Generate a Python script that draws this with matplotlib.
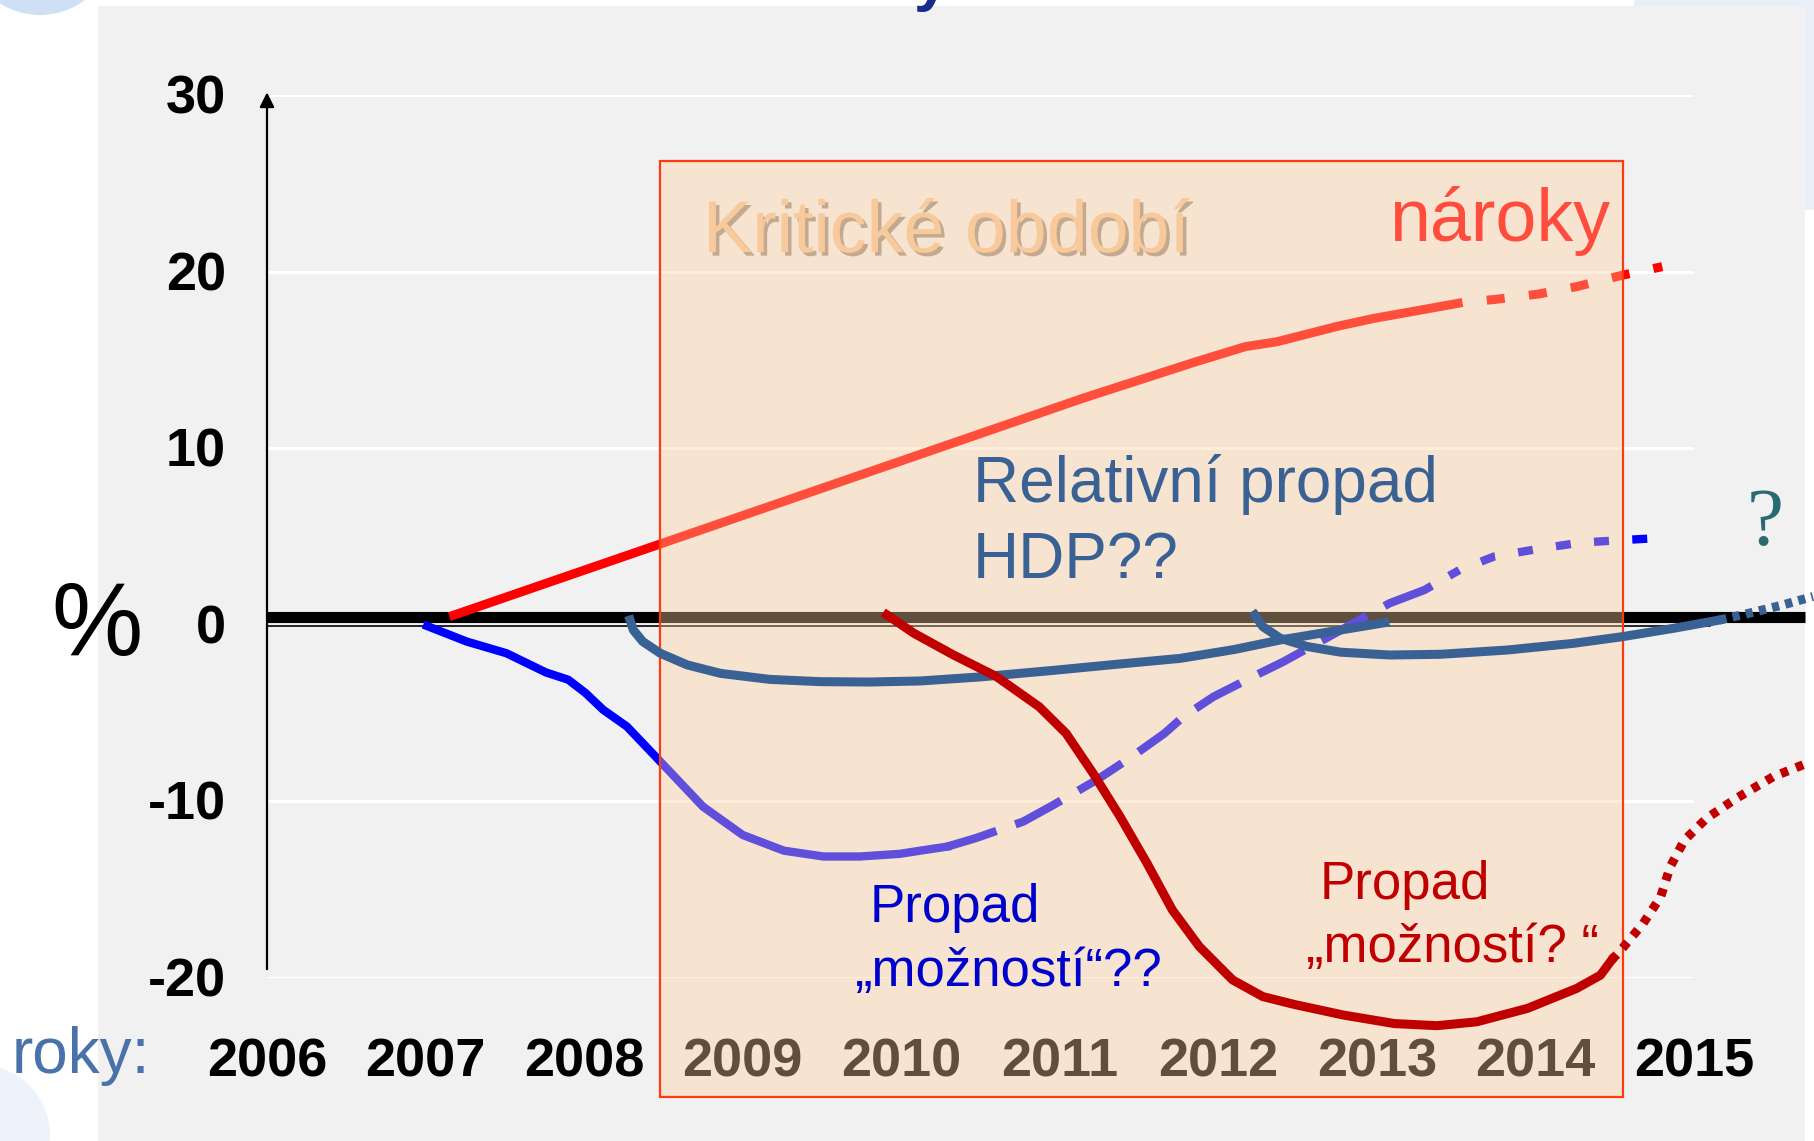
import matplotlib
matplotlib.use("Agg")
import matplotlib.pyplot as plt
import matplotlib.patheffects as pe
from matplotlib.patches import Rectangle, Ellipse

plt.rcParams['font.family'] = ['Liberation Sans', 'DejaVu Sans']

# --- data -----------------------------------------------------------------
years = [2006, 2007, 2008, 2009, 2010, 2011, 2012, 2013, 2014, 2015]
y_ticks = [30, 20, 10, 0, -10, -20]
y_tick_labels = ['30', '20', '10', '0', '-10', '-20']
critical_years = (2008.48, 2014.55)

# claims ("naroky"), solid part and the dashed outlook
naroky_x = [2007.15, 2011.15, 2011.86, 2012.17, 2012.37, 2012.75, 2012.98, 2013.2, 2013.54]
naroky_y = [0.46, 12.84, 14.9, 15.75, 16.03, 16.9, 17.35, 17.7, 18.25]
naroky_out_x = [2013.54, 2013.75, 2014.02, 2014.26, 2014.55, 2014.8]
naroky_out_y = [18.25, 18.43, 18.73, 19.15, 19.8, 20.28]

# drop of "possibilities" (blue)
moz_x = [2007.01, 2007.26, 2007.51, 2007.76, 2007.9, 2008.01, 2008.12, 2008.27, 2008.48,
         2008.75, 2009.0, 2009.26, 2009.51, 2009.74, 2009.99, 2010.12, 2010.29]
moz_y = [-0.07, -0.95, -1.61, -2.7, -3.11, -3.87, -4.81, -5.76, -7.74,
         -10.3, -11.9, -12.79, -13.12, -13.12, -12.97, -12.79, -12.56]
moz_dash_x = [2010.29, 2010.47, 2010.77, 2010.96, 2011.23, 2011.44, 2011.66, 2011.78,
              2011.97, 2012.24, 2012.41, 2012.66, 2013.08, 2013.3, 2013.52]
moz_dash_y = [-12.56, -12.08, -11.14, -10.2, -8.8, -7.56, -6.15, -5.2,
              -4.07, -2.84, -2.09, -0.86, 1.22, 1.97, 3.1]
moz_dot_x = [2013.52, 2013.74, 2014.02, 2014.28, 2014.55, 2014.82]
moz_dot_y = [3.1, 3.87, 4.3, 4.65, 4.8, 4.93]

# relative GDP drop, two arcs
hdp1_x = [2008.29, 2008.31, 2008.37, 2008.48, 2008.65, 2008.86, 2009.17, 2009.49, 2009.8,
          2010.12, 2010.5, 2010.96, 2011.4, 2011.76, 2012.1, 2012.39, 2012.72, 2013.05]
hdp1_y = [0.27, -0.29, -0.95, -1.61, -2.27, -2.75, -3.09, -3.22, -3.24,
          -3.18, -2.95, -2.58, -2.2, -1.9, -1.4, -0.86, -0.37, 0.12]
hdp2_x = [2012.23, 2012.28, 2012.39, 2012.56, 2012.77, 2013.08, 2013.4, 2013.82, 2014.24,
          2014.55, 2014.87, 2015.16]
hdp2_y = [0.56, -0.1, -0.76, -1.23, -1.55, -1.71, -1.67, -1.43, -1.05,
          -0.67, -0.2, 0.27]
hdp2_dot_x = [2015.16, 2015.35, 2015.55, 2015.75]
hdp2_dot_y = [0.27, 0.66, 1.1, 1.6]

# drop of "possibilities" (dark red)
pr_x = [2009.91, 2010.08, 2010.33, 2010.6, 2010.87, 2011.04, 2011.21, 2011.38, 2011.55,
        2011.71, 2011.88, 2012.09, 2012.28, 2012.48, 2012.79, 2013.11, 2013.38, 2013.63,
        2013.95, 2014.26, 2014.41, 2014.48]
pr_y = [0.56, -0.48, -1.71, -2.93, -4.64, -6.15, -8.41, -10.86, -13.5,
        -16.15, -18.22, -20.11, -21.05, -21.5, -22.1, -22.58, -22.7, -22.48,
        -21.72, -20.59, -19.84, -18.99]
pr_dot_x = [2014.48, 2014.55, 2014.68, 2014.79, 2014.85, 2014.94, 2015.08, 2015.27,
            2015.5, 2015.71]
pr_dot_y = [-18.99, -18.3, -16.9, -15.4, -13.7, -12.19, -10.95, -9.81,
            -8.6, -7.85]

# --- figure ---------------------------------------------------------------
W, H = 1814, 1141
fig = plt.figure(figsize=(W / 100, H / 100), dpi=100)
fig.patch.set_facecolor('white')


def blob(cx, cy, r, color, z=-3):
    # circle given in pixels from the top-left corner
    return Ellipse((cx / W, 1 - cy / H), 2 * r / W, 2 * r / H, transform=fig.transFigure,
                   facecolor=color, edgecolor='none', zorder=z)


# slide background
fig.patches.append(blob(40, -60, 75, '#cfe0f4'))
fig.patches.append(blob(-20, 1135, 70, '#eef3fb'))
fig.patches.append(blob(1800, 40, 170, '#e8eff9'))
fig.patches.append(Rectangle((98 / W, 0), (1805 - 98) / W, 1 - 6 / H,
                             transform=fig.transFigure, facecolor='#f1f1f1',
                             edgecolor='none', zorder=-2))
fig.text(931 / W, 1 + 1 / H, 'y', ha='center', va='baseline', fontsize=46,
         fontweight='bold', color='#1a2b8c')

ax = fig.add_axes([267 / W, 163 / H, 1427 / W, 883 / H])
ax.set_xlim(2006, 2015)
ax.set_ylim(-20, 30)
ax.axis('off')

# white gridlines
for v in y_ticks:
    if v != 0:
        ax.plot([2006, 2015], [v, v], color='white', lw=2.2, zorder=1)

# zero line
ax.plot([2006, 2015.7], [0.42, 0.42], color='black', lw=8, solid_capstyle='butt',
        zorder=1.5, clip_on=False)
ax.plot([2006, 2015.1], [-0.05, -0.05], color='black', lw=1.2, zorder=1.5, clip_on=False)

# y axis with arrow
ax.annotate('', xy=(2006, 30.15), xytext=(2006, -19.5),
            arrowprops=dict(arrowstyle='-|>', lw=1.6, color='black', mutation_scale=22,
                            shrinkA=0, shrinkB=0), annotation_clip=False)

# tick labels
for v, lab in zip(y_ticks, y_tick_labels):
    ax.text(2005.74, v - 1.05, lab, ha='right', va='baseline', fontsize=39,
            fontweight='bold', color='black', zorder=2, clip_on=False)
for yr in years:
    ax.text(yr, -25.55, str(yr), ha='center', va='baseline', fontsize=39,
            fontweight='bold', color='black', zorder=2, clip_on=False)
ax.text(2004.39, -25.4, 'roky:', ha='left', va='baseline', fontsize=46,
        color='#4a72aa', zorder=2, clip_on=False)
ax.text(2004.93, -1.7, '%', ha='center', va='baseline', fontsize=74,
        color='black', zorder=2, clip_on=False)

# lines beneath the critical-period overlay
kw = dict(solid_joinstyle='round', dash_capstyle='butt', clip_on=False)
ax.plot(naroky_x, naroky_y, color='#ff0000', lw=6.5, solid_capstyle='butt', zorder=2, **kw)
ax.plot(naroky_out_x, naroky_out_y, color='#ff0000', lw=6.5, ls=(2.0, (2.0, 2.7)),
        zorder=2, **kw)
ax.plot(moz_x, moz_y, color='#0000ff', lw=6, zorder=2, **kw)
ax.plot(moz_dash_x, moz_dash_y, color='#0000ff', lw=6, ls=(0, (6.2, 2.4)),
        zorder=2, **kw)
ax.plot(moz_dot_x, moz_dot_y, color='#0000ff', lw=6, ls=(1.8, (1.8, 2.8)),
        zorder=2, **kw)

# critical period box
x0, x1 = critical_years
ax.add_patch(Rectangle((x0, -26.74), x1 - x0, 53.0, facecolor='#ffd19f', alpha=0.38,
                       edgecolor='none', zorder=3, clip_on=False))
ax.add_patch(Rectangle((x0, -26.74), x1 - x0, 53.0, fill=False, edgecolor='#ff3a10',
                       lw=1.6, zorder=3.1, clip_on=False))

# lines above the overlay
ax.plot(hdp1_x, hdp1_y, color='#3a6194', lw=6.5, zorder=4, **kw)
ax.plot(hdp2_x, hdp2_y, color='#3a6194', lw=6.5, zorder=4, **kw)
ax.plot(hdp2_dot_x, hdp2_dot_y, color='#3a6194', lw=6.5, ls=(0, (0.8, 0.7)),
        zorder=4, **kw)
ax.plot(pr_x, pr_y, color='#c00000', lw=6.5, zorder=4, **kw)
ax.plot(pr_dot_x, pr_dot_y, color='#c00000', lw=6.5, ls=(0, (0.85, 0.95)),
        zorder=4, **kw)

# annotations
ax.text(2008.75, 21.1, 'Kritické období', ha='left', va='baseline', fontsize=53,
        color='#f7c99b', zorder=5,
        path_effects=[pe.SimplePatchShadow(offset=(2.5, -2.5), shadow_rgbFace='#9a7a5a',
                                           alpha=0.55), pe.Normal()])
ax.text(2014.47, 21.75, 'nároky', ha='right', va='baseline', fontsize=53,
        color='#ff4d3d', zorder=5)
ax.text(2010.45, 6.97, 'Relativní propad', ha='left', va='baseline', fontsize=46,
        color='#3a6194', zorder=5)
ax.text(2010.45, 2.63, 'HDP??', ha='left', va='baseline', fontsize=46,
        color='#3a6194', zorder=5)
ax.text(2015.45, 4.52, '?', ha='center', va='baseline', fontsize=60,
        family=['Liberation Serif', 'DejaVu Serif'], color='#2a6b73', zorder=5,
        clip_on=False)
ax.text(2009.8, -16.83, 'Propad', ha='left', va='baseline', fontsize=38,
        color='#0000cc', zorder=5)
ax.text(2009.7, -20.43, '„možností“??', ha='left', va='baseline', fontsize=38,
        color='#0000cc', zorder=5, clip_on=False)
ax.text(2012.64, -15.5, 'Propad', ha='left', va='baseline', fontsize=38,
        color='#c00000', zorder=5)
ax.text(2012.55, -19.08, '„možností? “', ha='left', va='baseline', fontsize=38,
        color='#c00000', zorder=5)

fig.savefig('out.png', dpi=100)
